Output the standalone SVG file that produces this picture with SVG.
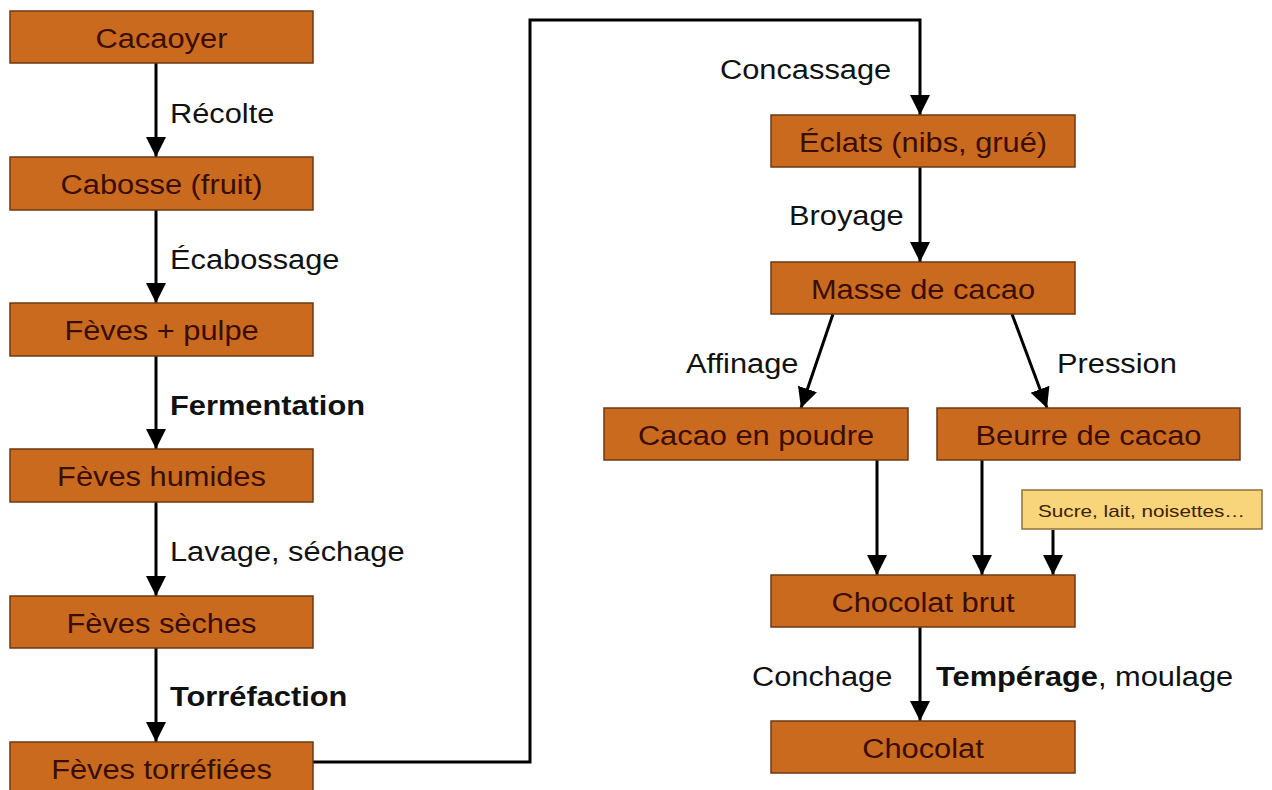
<svg xmlns="http://www.w3.org/2000/svg" width="1272" height="790" viewBox="0 0 1272 790">
<style>
.box{fill:#CA6A1E;stroke:#6E3812;stroke-width:1.5}
.note{fill:#F8D47A;stroke:#8E7038;stroke-width:1.5}
.n{font-family:"Liberation Sans",Arial,sans-serif;font-size:28px;fill:#3A0E04;text-anchor:middle}
.l{font-family:"Liberation Sans",Arial,sans-serif;font-size:28px;fill:#111}
.b{font-weight:bold}
.s{font-family:"Liberation Sans",Arial,sans-serif;font-size:17px;fill:#3a2208;text-anchor:middle}
.c{fill:none;stroke:#000;stroke-width:3;marker-end:url(#ah)}
</style>
<defs>
<marker id="ah" markerUnits="userSpaceOnUse" markerWidth="22" markerHeight="22" refX="20" refY="10" orient="auto" viewBox="0 0 22 22">
<path d="M0,0 L20,10 L0,20 z" fill="#000"/>
</marker>
</defs>
<rect width="1272" height="790" fill="#fff"/>
<g id="connectors">
<line class="c" x1="156" y1="63" x2="156" y2="157"/>
<line class="c" x1="156" y1="210" x2="156" y2="303"/>
<line class="c" x1="156" y1="356" x2="156" y2="449"/>
<line class="c" x1="156" y1="502" x2="156" y2="596"/>
<line class="c" x1="156" y1="648" x2="156" y2="742"/>
<polyline class="c" points="313,762 530,762 530,20 920,20 920,115"/>
<line class="c" x1="920" y1="167" x2="920" y2="262"/>
<line class="c" x1="833" y1="314" x2="801" y2="408"/>
<line class="c" x1="1012" y1="314" x2="1047" y2="408"/>
<line class="c" x1="877" y1="460" x2="877" y2="575"/>
<line class="c" x1="982" y1="460" x2="982" y2="575"/>
<line class="c" x1="1053" y1="530" x2="1053" y2="575"/>
<line class="c" x1="920" y1="627" x2="920" y2="721"/>
</g>
<g id="labels">
<text class="l" transform="translate(170,123) scale(1.1,1)">Récolte</text>
<text class="l" transform="translate(170,269) scale(1.1,1)">Écabossage</text>
<text class="l b" transform="translate(170,415) scale(1.1,1)">Fermentation</text>
<text class="l" transform="translate(170,561) scale(1.1,1)">Lavage, séchage</text>
<text class="l b" transform="translate(170,706) scale(1.1,1)">Torréfaction</text>
<text class="l" transform="translate(720,79) scale(1.1,1)">Concassage</text>
<text class="l" transform="translate(789,225) scale(1.1,1)">Broyage</text>
<text class="l" transform="translate(686,373) scale(1.1,1)">Affinage</text>
<text class="l" transform="translate(1057,373) scale(1.1,1)">Pression</text>
<text class="l" transform="translate(752,686) scale(1.1,1)">Conchage</text>
<text class="l" transform="translate(936,686) scale(1.1,1)"><tspan class="b">Tempérage</tspan>, moulage</text>
</g>
<g id="n-cacaoyer"><rect class="box" x="10" y="11" width="303" height="52"/><text class="n" transform="translate(161.5,47.5) scale(1.1,1)">Cacaoyer</text></g>
<g id="n-cabosse"><rect class="box" x="10" y="157" width="303" height="53"/><text class="n" transform="translate(161.5,194) scale(1.1,1)">Cabosse (fruit)</text></g>
<g id="n-feves-pulpe"><rect class="box" x="10" y="303" width="303" height="53"/><text class="n" transform="translate(161.5,340) scale(1.1,1)">Fèves + pulpe</text></g>
<g id="n-feves-humides"><rect class="box" x="10" y="449" width="303" height="53"/><text class="n" transform="translate(161.5,486) scale(1.1,1)">Fèves humides</text></g>
<g id="n-feves-seches"><rect class="box" x="10" y="596" width="303" height="52"/><text class="n" transform="translate(161.5,633) scale(1.1,1)">Fèves sèches</text></g>
<g id="n-feves-torrefiees"><rect class="box" x="10" y="742" width="303" height="53"/><text class="n" transform="translate(161.5,779) scale(1.1,1)">Fèves torréfiées</text></g>
<g id="n-eclats"><rect class="box" x="771" y="115" width="304" height="52"/><text class="n" transform="translate(923,152) scale(1.1,1)">Éclats (nibs, grué)</text></g>
<g id="n-masse"><rect class="box" x="771" y="262" width="304" height="52"/><text class="n" transform="translate(923,299) scale(1.1,1)">Masse de cacao</text></g>
<g id="n-poudre"><rect class="box" x="604" y="408" width="304" height="52"/><text class="n" transform="translate(756,445) scale(1.1,1)">Cacao en poudre</text></g>
<g id="n-beurre"><rect class="box" x="937" y="408" width="303" height="52"/><text class="n" transform="translate(1088.5,445) scale(1.1,1)">Beurre de cacao</text></g>
<g id="n-sucre"><rect class="note" x="1022" y="490" width="240" height="39"/><text class="s" x="1141.5" y="517" textLength="207" lengthAdjust="spacingAndGlyphs">Sucre, lait, noisettes…</text></g>
<g id="n-chocolat-brut"><rect class="box" x="771" y="575" width="304" height="52"/><text class="n" transform="translate(923,612) scale(1.1,1)">Chocolat brut</text></g>
<g id="n-chocolat"><rect class="box" x="771" y="721" width="304" height="52"/><text class="n" transform="translate(923,758) scale(1.1,1)">Chocolat</text></g>
</svg>
